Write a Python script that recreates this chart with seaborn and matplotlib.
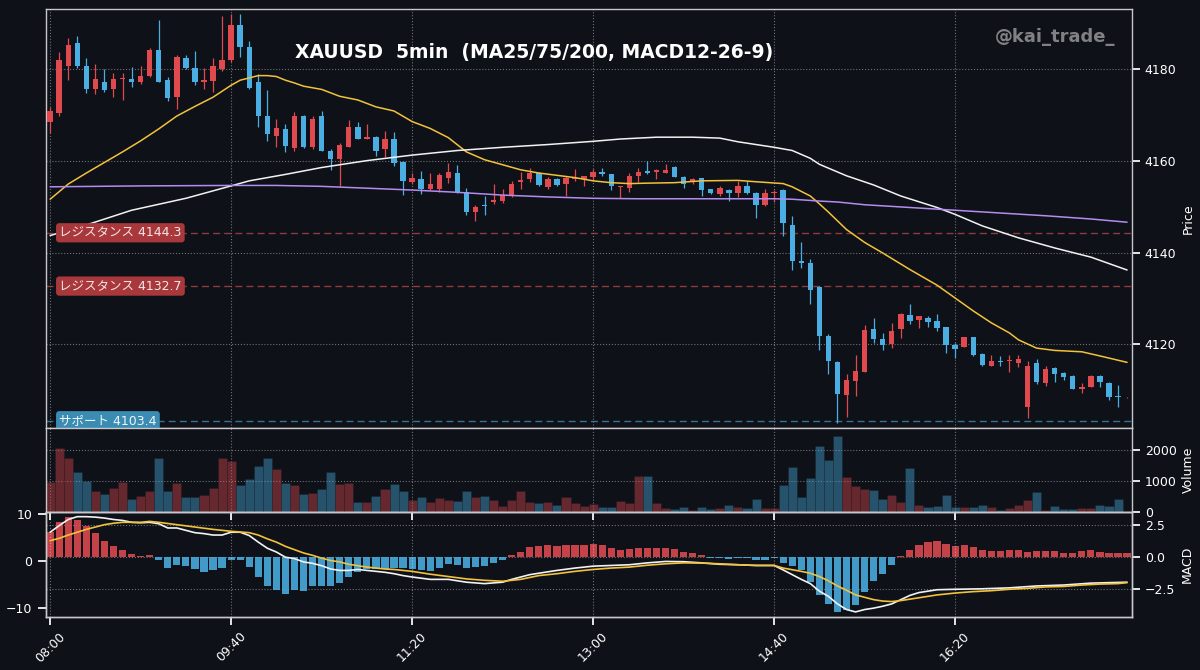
import numpy as np
import pandas as pd
import seaborn as sns
import matplotlib.pyplot as plt
import matplotlib.transforms as mtransforms
from matplotlib.ticker import MultipleLocator, FixedLocator

# ---------------------------------------------------------------------------
# Data (XAUUSD 5min, 08:00 - 17:55)
# ---------------------------------------------------------------------------
opens = [4168.5, 4170.4, 4180.7, 4185.5, 4180.7, 4175.5, 4177.2, 4175.6, 4177.7, 4177.8,
         4177.1, 4178.5, 4184.0, 4177.5, 4173.8, 4182.3, 4180.1, 4177.1, 4177.3, 4180.0,
         4181.8, 4189.5, 4184.7, 4177.1, 4169.7, 4165.4, 4166.9, 4162.7, 4169.8, 4162.9,
         4169.8, 4162.2, 4160.3, 4163.0, 4167.3, 4164.7, 4165.2, 4162.5, 4164.7, 4159.8,
         4155.4, 4156.1, 4153.8, 4153.9, 4156.3, 4157.4, 4153.1, 4148.8, 4150.3, 4151.0,
         4151.2, 4152.2, 4155.4, 4156.0, 4157.3, 4154.3, 4156.0, 4154.9, 4156.0, 4156.0,
         4156.5, 4157.6, 4157.1, 4154.2, 4154.1, 4156.7, 4157.8, 4157.6, 4157.4, 4158.7,
         4156.5, 4155.4, 4156.2, 4153.9, 4152.8, 4153.6, 4152.9, 4154.5, 4152.9, 4150.4,
         4152.9, 4153.6, 4146.1, 4138.1, 4137.8, 4132.5, 4121.9, 4116.1, 4109.0, 4112.1,
         4114.1, 4123.3, 4121.1, 4120.1, 4123.3, 4126.5, 4125.4, 4125.7, 4125.0, 4123.9,
         4119.9, 4119.5, 4121.6, 4117.9, 4115.4, 4116.5, 4116.3, 4115.9, 4106.3, 4115.9,
         4111.5, 4114.8, 4113.7, 4113.1, 4110.3, 4110.8, 4113.1, 4111.7, 4108.8, 4108.5]
highs = [4171.6, 4183.6, 4186.7, 4187.1, 4182.3, 4181.1, 4180.0, 4179.1, 4179.1, 4180.4,
         4180.7, 4184.4, 4190.6, 4178.2, 4182.9, 4182.9, 4183.8, 4180.2, 4182.3, 4191.5,
         4192.0, 4192.0, 4186.0, 4178.9, 4175.3, 4169.1, 4168.0, 4170.5, 4170.0, 4169.8,
         4170.7, 4162.5, 4163.8, 4168.9, 4168.5, 4167.9, 4165.4, 4166.5, 4166.3, 4160.0,
         4157.4, 4157.8, 4157.4, 4157.4, 4159.4, 4159.0, 4154.1, 4150.3, 4152.2, 4154.9,
         4153.9, 4155.6, 4157.6, 4158.5, 4157.6, 4156.5, 4156.3, 4156.7, 4158.2, 4156.7,
         4158.2, 4158.5, 4157.1, 4154.5, 4157.4, 4158.3, 4160.0, 4158.2, 4159.2, 4158.9,
         4156.7, 4156.3, 4156.3, 4153.9, 4154.5, 4153.8, 4155.6, 4155.6, 4153.2, 4153.8,
         4153.6, 4153.9, 4148.0, 4142.3, 4138.6, 4132.7, 4122.3, 4116.3, 4113.6, 4117.7,
         4124.3, 4125.7, 4122.5, 4124.6, 4126.8, 4128.9, 4126.2, 4126.2, 4126.7, 4123.9,
         4120.3, 4121.7, 4121.7, 4118.2, 4117.7, 4117.4, 4117.7, 4117.7, 4116.5, 4116.8,
         4115.2, 4115.0, 4113.9, 4113.4, 4111.5, 4113.4, 4113.4, 4111.9, 4111.1, 4108.6]
lows = [4166.0, 4169.7, 4177.6, 4180.1, 4174.7, 4174.5, 4175.0, 4173.8, 4173.3, 4176.0,
        4176.7, 4178.3, 4177.1, 4172.9, 4171.3, 4179.9, 4176.5, 4175.5, 4174.9, 4179.6,
        4181.5, 4182.5, 4175.5, 4167.3, 4164.3, 4162.9, 4161.8, 4162.2, 4162.7, 4162.5,
        4162.0, 4158.0, 4154.4, 4162.9, 4164.6, 4164.6, 4161.1, 4160.7, 4158.9, 4152.5,
        4155.0, 4152.7, 4153.6, 4153.1, 4155.2, 4152.9, 4148.1, 4146.9, 4148.1, 4150.5,
        4150.7, 4152.0, 4153.8, 4155.4, 4154.5, 4153.8, 4154.4, 4152.2, 4155.6, 4154.5,
        4155.6, 4156.7, 4153.6, 4151.8, 4153.1, 4155.4, 4157.1, 4156.0, 4157.3, 4156.5,
        4154.1, 4154.9, 4152.4, 4152.7, 4152.3, 4151.2, 4152.0, 4152.7, 4147.5, 4150.1,
        4150.9, 4143.6, 4136.2, 4136.7, 4128.7, 4118.7, 4113.6, 4102.8, 4104.3, 4108.8,
        4114.1, 4120.3, 4118.8, 4119.2, 4121.4, 4124.5, 4123.6, 4123.8, 4123.0, 4118.2,
        4117.0, 4119.4, 4117.5, 4115.3, 4115.3, 4115.3, 4114.1, 4115.0, 4104.1, 4111.4,
        4111.0, 4111.9, 4112.3, 4110.2, 4109.4, 4110.7, 4110.8, 4108.0, 4106.4, 4108.4]
closes = [4170.75, 4182.0, 4185.1, 4180.5, 4175.6, 4177.8, 4175.3, 4177.7, 4178.0, 4177.1,
          4178.5, 4184.0, 4177.2, 4173.6, 4182.5, 4180.1, 4177.1, 4177.5, 4180.6, 4182.0,
          4189.5, 4184.7, 4175.8, 4169.8, 4165.8, 4167.0, 4163.2, 4169.8, 4163.0, 4169.1,
          4162.2, 4160.3, 4163.5, 4167.4, 4164.7, 4165.1, 4162.2, 4164.7, 4159.5, 4155.6,
          4156.3, 4153.8, 4155.0, 4156.8, 4157.6, 4153.1, 4148.8, 4150.0, 4150.1, 4151.4,
          4152.5, 4155.0, 4155.7, 4157.4, 4154.7, 4156.0, 4154.7, 4156.3, 4156.2, 4156.7,
          4157.6, 4157.1, 4154.5, 4154.5, 4156.7, 4157.6, 4157.4, 4157.9, 4158.0, 4156.5,
          4154.9, 4156.0, 4153.6, 4152.9, 4154.0, 4152.9, 4154.5, 4152.9, 4150.4, 4152.9,
          4153.2, 4146.4, 4138.1, 4137.8, 4131.9, 4121.9, 4116.5, 4109.2, 4112.3, 4114.3,
          4123.2, 4121.2, 4119.9, 4123.0, 4126.6, 4125.0, 4126.1, 4124.8, 4123.6, 4119.9,
          4119.0, 4121.6, 4117.7, 4115.5, 4116.4, 4116.1, 4116.6, 4116.8, 4115.3, 4111.9,
          4114.6, 4113.6, 4113.0, 4110.4, 4110.7, 4113.1, 4111.9, 4108.6, 4108.5, 4108.5]
volumes = [973, 2063, 1735, 1291, 1005, 677, 571, 762, 973, 423,
           497, 677, 1714, 677, 920, 466, 466, 550, 762, 1735,
           1640, 868, 1047, 1481, 1714, 1365, 942, 868, 582, 603,
           730, 1270, 899, 920, 307, 307, 518, 741, 889, 656,
           391, 476, 317, 444, 391, 360, 677, 466, 518, 381,
           201, 381, 677, 307, 286, 317, 233, 487, 286, 180,
           265, 148, 169, 360, 286, 1153, 1153, 275, 127, 85,
           148, 63, 169, 106, 127, 233, 169, 127, 423, 127,
           127, 868, 1449, 466, 1079, 2105, 1650, 2444, 1132, 836,
           741, 698, 423, 540, 317, 1418, 233, 148, 201, 540,
           148, 148, 148, 222, 148, 74, 138, 222, 391, 624,
           74, 190, 85, 106, 127, 127, 233, 190, 423, 10]
macd_hist = [1.92, 2.69, 3.13, 2.87, 2.44, 1.85, 1.2, 0.82, 0.51, 0.18,
             0.05, 0.1, -0.26, -0.85, -0.64, -0.69, -0.97, -1.15, -1.03, -0.85,
             -0.28, -0.26, -0.77, -1.59, -2.31, -2.62, -2.9, -2.62, -2.69, -2.31,
             -2.31, -2.31, -2.05, -1.54, -1.15, -0.95, -0.95, -0.95, -0.85, -0.85,
             -0.97, -1.03, -1.1, -0.9, -0.59, -0.64, -0.85, -0.82, -0.69, -0.46,
             -0.26, 0.13, 0.41, 0.77, 0.85, 0.9, 0.82, 0.95, 0.95, 0.95,
             1.0, 0.95, 0.72, 0.51, 0.62, 0.67, 0.72, 0.72, 0.72, 0.59,
             0.36, 0.31, 0.1, -0.08, -0.13, -0.18, -0.08, -0.13, -0.26, -0.26,
             -0.13, -0.46, -0.7, -1.0, -2.0, -2.97, -3.67, -4.3, -4.18, -3.79,
             -2.77, -1.92, -1.36, -0.64, 0.08, 0.56, 0.95, 1.13, 1.21, 1.03,
             0.85, 0.9, 0.74, 0.51, 0.46, 0.46, 0.52, 0.5, 0.36, 0.44,
             0.46, 0.46, 0.33, 0.28, 0.46, 0.5, 0.36, 0.33, 0.3, 0.26]

# moving averages, read at selected candles
ma25_idx = [0, 2, 4, 6, 8, 10, 12, 14, 16, 18, 20, 21, 22, 23, 24, 25, 26, 27, 28, 30,
            32, 34, 36, 38, 40, 42, 44, 46, 48, 50, 52, 54, 56, 58, 60, 62, 64, 66, 69, 72,
            76, 78, 81, 82, 84, 85, 86, 88, 90, 92, 95, 98, 100, 102, 104, 106, 107, 109,
            111, 114, 116, 119]
ma25 = [4151.6, 4154.9, 4157.3, 4159.6, 4161.9, 4164.3, 4166.9, 4169.7, 4171.8, 4173.8,
        4176.4, 4177.5, 4178.0, 4178.5, 4178.5, 4178.3, 4177.5, 4176.9, 4176.2, 4175.5,
        4174.0, 4173.2, 4171.7, 4170.8, 4168.5, 4167.0, 4165.0, 4161.9, 4160.2, 4159.1,
        4158.0, 4157.3, 4156.8, 4156.3, 4155.6, 4155.2, 4155.0, 4155.1, 4155.2, 4155.6,
        4155.7, 4155.4, 4155.0, 4154.3, 4152.3, 4150.6, 4148.8, 4145.0, 4142.2, 4139.9,
        4136.3, 4132.9, 4130.1, 4127.3, 4124.7, 4122.5, 4121.0, 4119.2, 4118.7, 4118.4,
        4117.5, 4116.1]
ma75_idx = [0, 4, 9, 15, 20, 22, 26, 30, 35, 40, 45, 50, 55, 60, 63, 67, 71, 74, 76, 80,
            82, 84, 85, 88, 91, 94, 98, 100, 103, 107, 111, 115, 119]
ma75 = [4143.7, 4146.0, 4149.2, 4151.8, 4154.5, 4155.6, 4157.0, 4158.5, 4160.0, 4161.2,
        4162.2, 4162.9, 4163.5, 4164.2, 4164.7, 4165.1, 4165.1, 4164.9, 4164.1, 4162.9,
        4162.2, 4160.5, 4159.2, 4156.7, 4154.7, 4152.3, 4149.8, 4148.3, 4145.8, 4143.2,
        4141.0, 4139.0, 4136.2]
ma200_idx = [0, 10, 20, 25, 30, 35, 40, 45, 50, 55, 60, 65, 70, 75, 80, 82, 85, 87, 90,
             95, 100, 105, 110, 115, 119]
ma200 = [4154.3, 4154.5, 4154.6, 4154.6, 4154.4, 4154.0, 4153.6, 4153.1, 4152.5, 4152.1,
         4151.8, 4151.7, 4151.7, 4151.7, 4151.7, 4151.6, 4151.2, 4151.0, 4150.4, 4149.8,
         4149.2, 4148.6, 4148.0, 4147.3, 4146.6]

# MACD line and signal line, read at selected candles
macd_idx = [0, 1, 2, 3, 4, 5, 6, 7, 8, 9, 10, 11, 12, 13, 14, 15, 16, 17, 18, 19,
            20, 21, 22, 23, 24, 25, 26, 27, 28, 29, 30, 31, 32, 33, 34, 35, 36, 37, 38, 39,
            40, 42, 44, 46, 48, 50, 51, 53, 56, 58, 60, 62, 64, 66, 68, 70, 72, 74, 76, 78,
            80, 81, 83, 84, 85, 86, 87, 88, 89, 90, 91, 92, 93, 94, 95, 96, 97, 98, 100, 103,
            106, 109, 112, 115, 117, 119]
macd_line = [6.1, 7.5, 8.8, 9.4, 9.4, 9.3, 9.1, 8.8, 8.6, 8.2, 8.1, 8.2, 7.9, 7.0, 7.0, 6.5,
             6.0, 5.8, 5.5, 5.5, 6.1, 6.1, 5.4, 4.0, 2.7, 1.9, 0.8, 0.5, -0.2, -0.5,
             -1.0, -1.7, -2.0, -2.0, -1.8, -2.0, -2.2, -2.4, -2.7, -3.1, -3.4, -3.9, -3.9, -4.5,
             -4.8, -4.5, -3.9, -2.9, -2.0, -1.5, -1.1, -0.95, -0.8, -0.4, -0.1, -0.15, -0.4,
             -0.7, -0.8, -0.95, -0.95, -1.9, -3.9, -4.8, -6.4, -7.5, -9.1, -10.3, -10.8, -10.3,
             -10.0, -9.6, -9.1, -8.2, -7.3, -6.7, -6.4, -6.1, -6.0, -5.9, -5.7, -5.3, -5.1,
             -4.7, -4.6, -4.5]
sig_idx = [0, 1, 2, 3, 4, 5, 6, 7, 8, 10, 11, 12, 14, 16, 18, 20, 22, 23, 24, 25, 26, 27,
           28, 29, 30, 31, 32, 33, 34, 35, 36, 37, 38, 39, 40, 42, 44, 46, 48, 50, 52, 54, 56,
           58, 60, 62, 64, 66, 68, 70, 72, 74, 76, 78, 80, 81, 83, 84, 85, 86, 87, 88, 89, 90,
           91, 92, 93, 94, 95, 96, 97, 98, 99, 100, 102, 104, 106, 108, 110, 112, 114, 116, 118,
           119]
signal_line = [4.3, 4.8, 5.5, 6.1, 6.7, 7.2, 7.7, 8.0, 8.2, 8.2, 8.4, 8.2, 7.7, 7.2, 6.7, 6.3,
               6.0, 5.5, 4.7, 4.0, 3.1, 2.4, 1.7, 1.2, 0.6, 0.1, -0.2, -0.7, -1.0, -1.3, -1.5,
               -1.7, -1.8, -2.0, -2.2, -2.8, -3.3, -3.8, -4.1, -4.3, -3.9, -3.1, -2.7, -2.2,
               -1.8, -1.5, -1.3, -0.9, -0.6, -0.4, -0.45, -0.6, -0.8, -0.95, -0.95, -1.5, -2.2,
               -2.6, -3.3, -4.2, -5.3, -6.2, -7.2, -7.7, -8.2, -8.5, -8.6, -8.4, -8.1, -7.8,
               -7.5, -7.2, -7.0, -6.8, -6.5, -6.3, -6.0, -5.8, -5.5, -5.4, -5.1, -4.9, -4.8,
               -4.6]

resistance_levels = [4144.3, 4132.7]
support_levels = [4103.4]
tick_labels = ["08:00", "09:40", "11:20", "13:00", "14:40", "16:20"]

#-----------------------------------------------------------------------------
"""Styling"""
BG = '#0e1117'
RED = '#e04a4f'
BLUE = '#4aaee3'
SPINE = '#c8c8cc'

sns.set_theme(style="ticks", rc={
    'figure.facecolor': BG, 'axes.facecolor': BG, 'axes.edgecolor': SPINE,
    'axes.labelcolor': 'white', 'text.color': 'white',
    'xtick.color': 'white', 'ytick.color': 'white',
    'xtick.labelsize': 9, 'ytick.labelsize': 9, 'axes.labelsize': 9,
    'axes.linewidth': 1.0,
})
plt.rcParams['font.family'] = ['DejaVu Sans', 'Noto Sans CJK JP']

df = pd.DataFrame({'open': opens, 'high': highs, 'low': lows, 'close': closes,
                   'volume': volumes, 'hist': macd_hist})
df['x'] = np.arange(len(df))
df['time'] = pd.date_range("08:00", periods=len(df), freq="5min").strftime("%H:%M")
colors = np.where(df['close'] >= df['open'], RED, BLUE)

fig = plt.figure(figsize=(12, 6.7), dpi=100)
gs = fig.add_gridspec(3, 1, height_ratios=[5, 1, 1.25], hspace=0,
                      left=0.038, right=0.943, top=0.9866, bottom=0.0796)
ax1 = fig.add_subplot(gs[0])
ax2 = fig.add_subplot(gs[1], sharex=ax1)
ax3 = fig.add_subplot(gs[2], sharex=ax1)

grid_kw = dict(color='white', linestyle=':', linewidth=0.8, alpha=0.4)

#-----------------------------------------------------------------------------
"""Price panel"""
body_lo = np.minimum(df['open'], df['close'])
body_h = np.maximum((df['close'] - df['open']).abs(), 0.12)
ax1.vlines(df['x'], df['low'], df['high'], colors=colors, linewidth=0.9, zorder=3)
ax1.bar(df['x'], body_h, bottom=body_lo, width=0.6, color=colors, linewidth=0, zorder=4)

sns.lineplot(x=ma25_idx, y=ma25, ax=ax1, color='#f2c23c', linewidth=1.1, zorder=5)
sns.lineplot(x=ma75_idx, y=ma75, ax=ax1, color='#f2f2f2', linewidth=1.1, zorder=5)
sns.lineplot(x=ma200_idx, y=ma200, ax=ax1, color='#b48cf0', linewidth=1.1, zorder=5)

lvl_trans = mtransforms.blended_transform_factory(ax1.transAxes, ax1.transData)
for lv in resistance_levels:
    ax1.axhline(lv, color='#c04848', linestyle=(0, (5, 3)), linewidth=1, alpha=0.75, zorder=2)
    ax1.text(0.0125, lv, f"レジスタンス {lv}", transform=lvl_trans, ha='left', va='center',
             fontsize=9, color='#f6e6e6', zorder=6,
             bbox=dict(boxstyle='round,pad=0.25', fc='#a8383c', ec='none'))
for lv in support_levels:
    ax1.axhline(lv, color='#3a8fb0', linestyle=(0, (5, 3)), linewidth=1, alpha=0.8, zorder=2)
    ax1.text(0.0125, lv, f"サポート {lv}", transform=lvl_trans, ha='left', va='center',
             fontsize=9, color='#eef6fa', zorder=6,
             bbox=dict(boxstyle='round,pad=0.25', fc='#3a8cb2', ec='none'))

ax1.set_ylim(min(lows) - 1, max(highs) + 1)
ax1.yaxis.tick_right()
ax1.yaxis.set_label_position('right')
ax1.yaxis.set_major_locator(MultipleLocator(20))
ax1.set_ylabel('Price')
ax1.grid(True, **grid_kw)
ax1.set_axisbelow(True)
ax1.tick_params(labelbottom=False)

ax1.text(0.2296, 0.895, "XAUUSD  5min  (MA25/75/200, MACD12-26-9)", transform=ax1.transAxes,
         ha='left', va='center', fontsize=13.5, fontweight='bold', color='white')
ax1.text(0.985, 0.932, "@kai_trade_", transform=ax1.transAxes, ha='right', va='center',
         fontsize=13, fontweight='bold', color='#808085')

#-----------------------------------------------------------------------------
"""Volume panel"""
ax2.bar(df['x'], df['volume'], width=1.0, color=colors, alpha=0.42, edgecolor=BG, linewidth=0.4)
ax2.set_ylim(0, max(volumes) * 1.1)
ax2.yaxis.tick_right()
ax2.yaxis.set_label_position('right')
ax2.yaxis.set_major_locator(MultipleLocator(1000))
ax2.set_ylabel('Volume')
ax2.grid(True, **grid_kw)
ax2.set_axisbelow(True)
ax2.tick_params(labelbottom=False)

#-----------------------------------------------------------------------------
"""MACD panel"""
ax3b = ax3.twinx()
hist_colors = np.where(df['hist'] >= 0, RED, BLUE)
ax3b.bar(df['x'], df['hist'], width=0.8, color=hist_colors, alpha=0.88, linewidth=0)
ax3b.yaxis.set_major_locator(FixedLocator([-2.5, 0, 2.5]))
ax3b.set_ylabel('MACD')
ax3b.grid(True, axis='y', **grid_kw)
ax3b.set_axisbelow(True)

sns.lineplot(x=macd_idx, y=macd_line, ax=ax3, color='#f2f2f2', linewidth=1.2)
sns.lineplot(x=sig_idx, y=signal_line, ax=ax3, color='#f2c23c', linewidth=1.2)
ax3.yaxis.set_major_locator(FixedLocator([-10, 0, 10]))
ax3.grid(True, axis='x', **grid_kw)
ax3.set_zorder(ax3b.get_zorder() + 1)
ax3.patch.set_visible(False)

tick_pos = [list(df['time']).index(t) for t in tick_labels]
ax3.set_xticks(tick_pos)
ax3.set_xticklabels(tick_labels, rotation=45)
ax1.set_xlim(-0.5, len(df) - 0.5)
ax3.set_xlabel('')

fig.savefig('out.png', dpi=100, facecolor=BG)
